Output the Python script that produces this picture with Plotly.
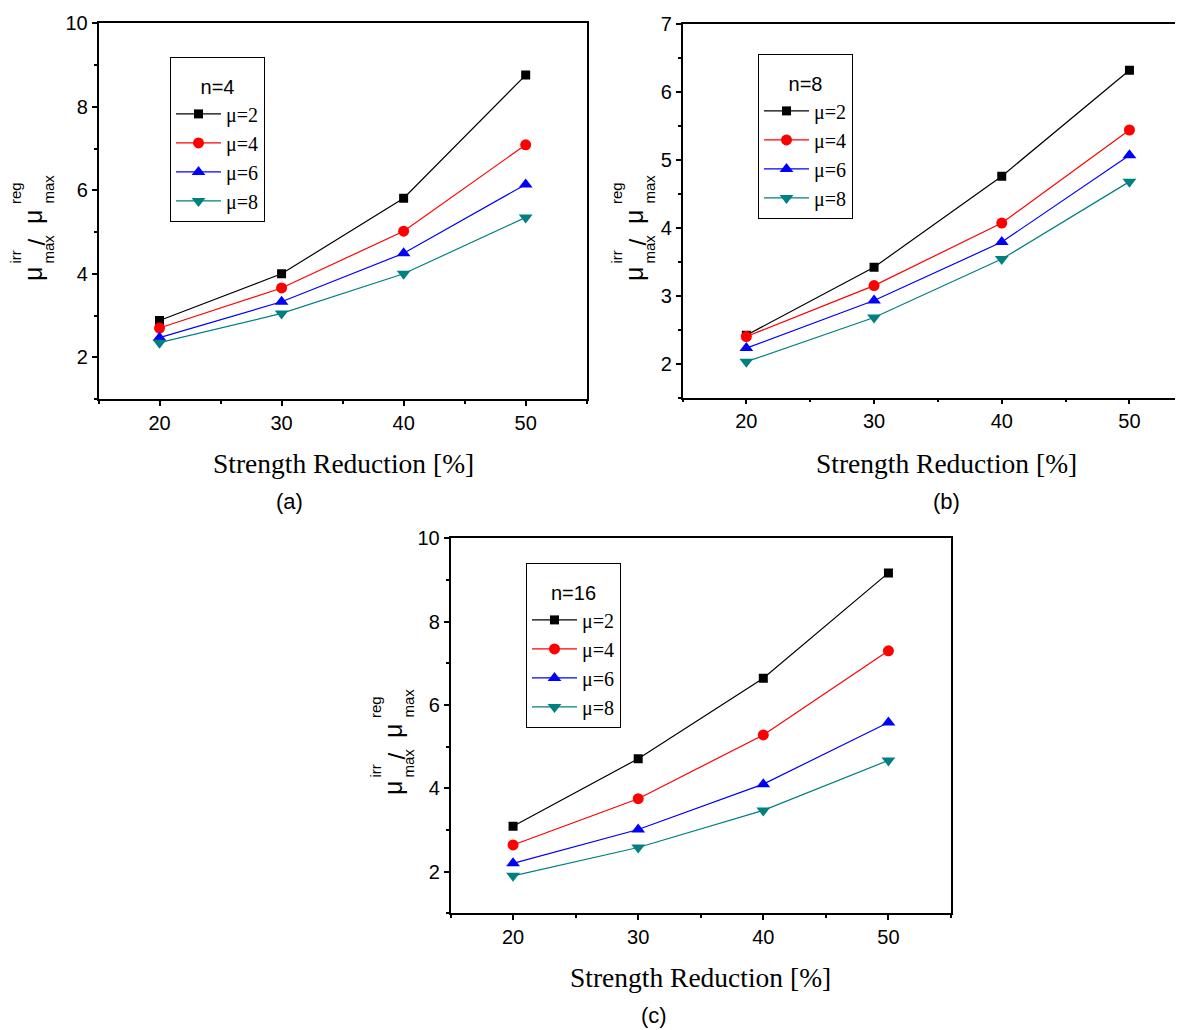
import plotly.graph_objects as go

# ---------------- data ----------------
x_vals = [20, 30, 40, 50]
series_labels = ["μ=2", "μ=4", "μ=6", "μ=8"]

# panel (a) n=4
a_mu2 = [2.88, 4.00, 5.81, 8.76]
a_mu4 = [2.70, 3.66, 5.02, 7.09]
a_mu6 = [2.47, 3.33, 4.49, 6.14]
a_mu8 = [2.35, 3.05, 4.00, 5.35]

# panel (b) n=8
b_mu2 = [2.42, 3.42, 4.76, 6.32]
b_mu4 = [2.40, 3.15, 4.07, 5.44]
b_mu6 = [2.23, 2.93, 3.79, 5.07]
b_mu8 = [2.03, 2.68, 3.54, 4.68]

# panel (c) n=16
c_mu2 = [3.09, 4.71, 6.64, 9.17]
c_mu4 = [2.64, 3.75, 5.28, 7.30]
c_mu6 = [2.20, 3.01, 4.10, 5.58]
c_mu8 = [1.90, 2.58, 3.47, 4.67]

legend_titles = ["n=4", "n=8", "n=16"]
panel_captions = ["(a)", "(b)", "(c)"]
x_title = "Strength Reduction [%]"

colors = ["#000000", "#FF0000", "#0000FF", "#008080"]
symbols = ["square", "circle", "triangle-up", "triangle-down"]
msizes = [9, 11, 12, 12]

W, H = 1183, 1030
OFF = 8  # page margin of the browser body
def px(v):
    return (v - OFF) / W
def py(v):
    return 1 - (v - OFF) / H

SANS = "Liberation Sans, Arial, sans-serif"
SERIF = "Liberation Serif"

panels = [
    dict(data=[a_mu2, a_mu4, a_mu6, a_mu8], xd=(98.5, 586.7), yd=(23.3, 399),
         xr=[15, 55], yr=[1, 10], ydt=2, ymin=1, ymirror=True,
         leg=(170, 57), xt=(343, 463), cap=(289, 502), yt=(33, 283)),
    dict(data=[b_mu2, b_mu4, b_mu6, b_mu8], xd=(682.5, 1191), yd=(24, 397.7),
         xr=[15, 54.82], yr=[1.5, 7], ydt=1, ymin=0.5, ymirror=False,
         leg=(758, 54), xt=(946, 463), cap=(946, 502), yt=(634, 283)),
    dict(data=[c_mu2, c_mu4, c_mu6, c_mu8], xd=(450.5, 951), yd=(538.3, 913.3),
         xr=[15, 55], yr=[1, 10], ydt=2, ymin=1, ymirror=True,
         leg=(526, 563), xt=(700, 977), cap=(654, 1015), yt=(393, 797)),
]

fig = go.Figure()
layout = dict(width=W, height=H, autosize=False,
              margin=dict(l=0, r=0, t=0, b=0, pad=0),
              paper_bgcolor="white", plot_bgcolor="white",
              showlegend=True)
annotations = []

for i, p in enumerate(panels):
    sfx = "" if i == 0 else str(i + 1)
    legname = "legend" + sfx
    for k in range(4):
        fig.add_trace(go.Scatter(
            x=x_vals, y=p["data"][k], mode="lines+markers",
            name="<span style='font-family:Liberation Serif'>" + series_labels[k] + "</span>",
            line=dict(color=colors[k], width=1.2),
            marker=dict(symbol=symbols[k], size=msizes[k], color=colors[k]),
            xaxis="x" + sfx, yaxis="y" + sfx,
            legend=legname, legendgroup=f"g{i}{k}",
        ))
    axcommon = dict(showline=True, linecolor="black", linewidth=1.5,
                    ticks="outside", ticklen=5, tickwidth=1.5, tickcolor="black",
                    showgrid=False, zeroline=False, automargin=False,
                    tickfont=dict(family=SANS, size=20, color="black"))
    layout["xaxis" + sfx] = dict(
        axcommon, domain=[max(0, px(p["xd"][0])), min(1, px(p["xd"][1]))], range=p["xr"],
        anchor="y" + sfx, mirror=True, tickvals=x_vals,
        minor=dict(dtick=5, tick0=0, ticks="outside", ticklen=3,
                   tickwidth=1.5, tickcolor="black"))
    layout["yaxis" + sfx] = dict(
        axcommon, domain=[py(p["yd"][1]), py(p["yd"][0])], range=p["yr"],
        anchor="x" + sfx, mirror=p["ymirror"], dtick=p["ydt"], tick0=0,
        minor=dict(dtick=p["ymin"], tick0=0, ticks="outside", ticklen=3,
                   tickwidth=1.5, tickcolor="black"))
    layout[legname] = dict(
        x=px(p["leg"][0]), y=py(p["leg"][1]), xanchor="left", yanchor="top",
        bordercolor="black", borderwidth=1, bgcolor="white",
        font=dict(family=SERIF, size=20, color="black"),
        title=dict(text="<br><span style='font-size:20px'>" + legend_titles[i] + "</span>",
                   side="top center",
                   font=dict(family=SANS, size=14, color="black")),
        tracegroupgap=0, itemwidth=45)
    # x-axis title
    annotations.append(dict(text=x_title, x=px(p["xt"][0]), y=py(p["xt"][1]),
                            xref="paper", yref="paper", showarrow=False,
                            xanchor="center", yanchor="middle",
                            font=dict(family=SERIF, size=27.5, color="black")))
    # caption
    annotations.append(dict(text=panel_captions[i], x=px(p["cap"][0]), y=py(p["cap"][1]),
                            xref="paper", yref="paper", showarrow=False,
                            xanchor="center", yanchor="middle",
                            font=dict(family=SANS, size=22, color="black")))
    # stacked y-axis title  mu^irr_max / mu^reg_max (rotated)
    mx, mb = p["yt"]
    pieces = [
        ("μ", 0, 0, 25),
        ("max", 15, -17, 15),
        ("irr", -18, -17, 15),
        ("/", 3, -35, 24),
        ("μ", 0, -57, 25),
        ("max", 15, -77, 15),
        ("reg", -18, -77, 15),
    ]
    for txt, dx, dy, fs in pieces:
        annotations.append(dict(text=txt, x=px(mx + dx), y=py(mb + dy),
                                xref="paper", yref="paper", showarrow=False,
                                textangle=-90, xanchor="center", yanchor="bottom",
                                font=dict(family=SANS, size=fs, color="black")))

layout["annotations"] = annotations
fig.update_layout(**layout)
fig.write_html("out.html")
